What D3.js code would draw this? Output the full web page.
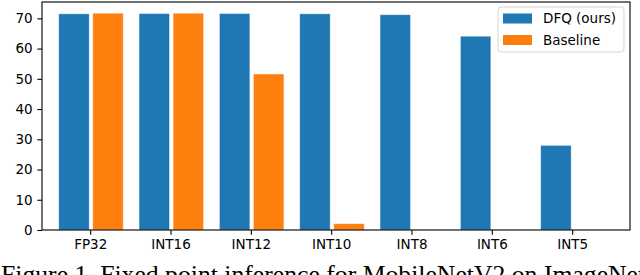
<!DOCTYPE html>
<html lang="en">
<head>
<meta charset="UTF-8">
<title>DFQ vs Baseline</title>
<script src="https://d3js.org/d3.v7.min.js"></script>
<style>
  body { margin: 0; background: #fff; overflow: hidden; }
  svg { display: block; }
  .tick text { font-family: "DejaVu Sans", sans-serif; font-size: 13.5px; fill: #000; }
  .caption { font-family: "Liberation Serif", "Times New Roman", serif; font-size: 25.7px; fill: #000; }
</style>
</head>
<body>
<div id="chart"></div>
<script>
// data
const categories = ["FP32", "INT16", "INT12", "INT10", "INT8", "INT6", "INT5"];
const dfqValues = [71.5, 71.6, 71.6, 71.5, 71.2, 64.1, 28.0];
const baselineValues = [71.7, 71.7, 51.6, 2.1, 0, 0, 0];
const yTicks = [0, 10, 20, 30, 40, 50, 60, 70];
const seriesNames = ["DFQ (ours)", "Baseline"];
const colors = ["#1f77b4", "#ff7f0e"];

const width = 640, height = 275;
const plotLeft = 42, plotRight = 630, plotTop = 2, plotBottom = 230;

const svg = d3.select("#chart").append("svg")
    .attr("width", width)
    .attr("height", height);

const x = d3.scaleLinear().domain([-0.6, 6.72]).range([plotLeft, plotRight]);
const y = d3.scaleLinear().domain([0, 75.4]).range([plotBottom, plotTop]);
const step = x(1) - x(0);
const barW = 0.38 * step;

// bars
const series = [
  { name: seriesNames[0], values: dfqValues, color: colors[0], off: -0.392 },
  { name: seriesNames[1], values: baselineValues, color: colors[1], off: 0.032 }
];

series.forEach(s => {
  svg.append("g")
    .selectAll("rect")
    .data(s.values.map((v, i) => ({ v, i })).filter(d => d.v > 0))
    .enter().append("rect")
    .attr("x", d => x(d.i) + s.off * step)
    .attr("y", d => y(d.v))
    .attr("width", barW)
    .attr("height", d => y(0) - y(d.v))
    .attr("fill", s.color)
    .attr("stroke", "#fff")
    .attr("stroke-opacity", 0.6)
    .attr("stroke-width", 0.8);
});

// axes
const xAxis = d3.axisBottom(x)
  .tickValues(d3.range(categories.length))
  .tickFormat(i => categories[i])
  .tickSize(4.7).tickPadding(4.7);
const yAxis = d3.axisLeft(y)
  .tickValues(yTicks)
  .tickSize(4.7).tickPadding(4.7);

const gx = svg.append("g").attr("transform", `translate(0,${plotBottom})`).call(xAxis);
const gy = svg.append("g").attr("transform", `translate(${plotLeft},0)`).call(yAxis);
[gx, gy].forEach(g => {
  g.select(".domain").remove();
  g.selectAll(".tick line").attr("stroke", "#000").attr("stroke-width", 1.1);
});

// frame
svg.append("rect")
  .attr("x", plotLeft).attr("y", plotTop)
  .attr("width", plotRight - plotLeft).attr("height", plotBottom - plotTop)
  .attr("fill", "none").attr("stroke", "#000").attr("stroke-width", 1.1);

// legend
const lg = svg.append("g");
lg.append("rect")
  .attr("x", 498).attr("y", 7).attr("width", 126).attr("height", 45)
  .attr("rx", 3).attr("fill", "#fff").attr("fill-opacity", 0.8)
  .attr("stroke", "#d5d5d5").attr("stroke-width", 1);
series.forEach((s, i) => {
  const cy = 18.5 + i * 21.5;
  lg.append("rect")
    .attr("x", 503).attr("y", cy - 5).attr("width", 29).attr("height", 10)
    .attr("fill", s.color);
  lg.append("text")
    .attr("x", 543).attr("y", cy).attr("dy", "0.36em")
    .attr("font-family", "DejaVu Sans, sans-serif").attr("font-size", 13.5)
    .text(s.name);
});

// caption (cut off by the window, as in the figure)
svg.append("text")
  .attr("class", "caption")
  .attr("x", 1).attr("y", 283)
  .text("Figure 1. Fixed point inference for MobileNetV2 on ImageNet");
</script>
</body>
</html>
